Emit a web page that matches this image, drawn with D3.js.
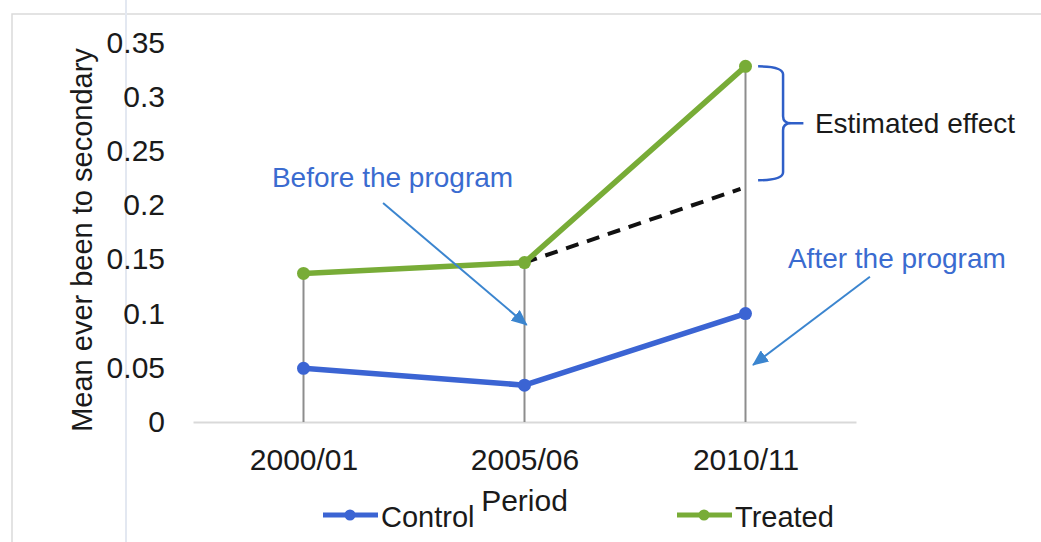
<!DOCTYPE html>
<html>
<head>
<meta charset="utf-8">
<script src="https://cdn.jsdelivr.net/npm/d3@7"></script>
<style>
    html, body { margin: 0; padding: 0; background: #fff; }
    svg { display: block; font-family: "Liberation Sans", Arial, sans-serif; }
</style>
</head>
<body>
<svg id="svgDid" width="1041" height="542"></svg>
<script>
// periods and group means
var periods = ["2000/01", "2005/06", "2010/11"];
var control = [0.0495, 0.034, 0.100];
var treated = [0.137, 0.147, 0.328];
var yTicks = [0, 0.05, 0.1, 0.15, 0.2, 0.25, 0.3, 0.35];

// counterfactual trend for the treated group (index, value)
var trendIdx = [1, 2];
var trendVal = [0.147, 0.215];

// brace marking the estimated effect (values)
var braceVal = [0.328, 0.223];

/**
 * difference-in-differences chart
 */
function createDidChart() {
    var svg = d3.select("#svgDid");

    var blue = "#3b64d3",
        green = "#78ac37",
        arrowBlue = "#3b85cf",
        textBlue = "#3a6bd0";

    // frame and scan fold
    svg.append("rect")
        .attr("x", 12).attr("y", 14)
        .attr("width", 1040).attr("height", 540)
        .attr("fill", "none")
        .attr("stroke", "#dadada")
        .attr("stroke-width", 1.5);
    svg.append("line")
        .attr("x1", 126).attr("x2", 126)
        .attr("y1", 0).attr("y2", 542)
        .attr("stroke", "#e3e8f1")
        .attr("stroke-width", 2);

    var x = d3.scalePoint()
        .domain(periods)
        .range([193, 856])
        .padding(0.5);

    // index scale, used for lines and annotations
    var xi = d3.scaleLinear()
        .domain([0, periods.length - 1])
        .range([x(periods[0]), x(periods[periods.length - 1])]);

    var y = d3.scaleLinear()
        .domain([0, 0.35])
        .range([422, 42.5]);

    // y axis (labels only)
    var gy = svg.append("g")
        .attr("transform", "translate(193,0)")
        .call(d3.axisLeft(y).tickValues(yTicks).tickSize(0).tickPadding(28)
            .tickFormat(function (d) { return d3.format("")(+d.toFixed(2)); }));
    gy.select(".domain").remove();
    gy.selectAll("text")
        .attr("font-family", "Liberation Sans, Arial, sans-serif")
        .attr("font-size", 30)
        .attr("fill", "#1a1a1a");

    // x axis
    var gx = svg.append("g")
        .attr("transform", "translate(0," + y(0) + ")")
        .call(d3.axisBottom(x).tickSize(0).tickPadding(27));
    gx.select(".domain")
        .attr("stroke", "#d9d9d9")
        .attr("stroke-width", 2);
    gx.selectAll("text")
        .attr("font-family", "Liberation Sans, Arial, sans-serif")
        .attr("font-size", 30)
        .attr("fill", "#1a1a1a");

    // axis titles
    svg.append("text")
        .attr("transform", "translate(92,240) rotate(-90)")
        .attr("text-anchor", "middle")
        .attr("font-size", 29)
        .attr("fill", "#1a1a1a")
        .text("Mean ever been to secondary");

    svg.append("text")
        .attr("x", x(periods[1]))
        .attr("y", 511)
        .attr("text-anchor", "middle")
        .attr("font-size", 30)
        .attr("fill", "#1a1a1a")
        .text("Period");

    // drop lines
    svg.append("g").selectAll("line")
        .data(periods)
        .enter()
        .append("line")
        .attr("x1", function (d) { return x(d); })
        .attr("x2", function (d) { return x(d); })
        .attr("y1", function (d, i) { return y(Math.max(treated[i], control[i])); })
        .attr("y2", y(0))
        .attr("stroke", "#8d8d8d")
        .attr("stroke-width", 2);

    var line = d3.line()
        .x(function (d, i) { return xi(i); })
        .y(function (d) { return y(d); });

    // counterfactual trend
    svg.append("path")
        .datum(trendVal)
        .attr("d", d3.line()
            .x(function (d, i) { return xi(trendIdx[i]) - i * 5; })
            .y(function (d) { return y(d); }))
        .attr("fill", "none")
        .attr("stroke", "#111")
        .attr("stroke-width", 4)
        .attr("stroke-dasharray", "13,9");

    // series
    var series = [
        {name: "Control", values: control, color: blue},
        {name: "Treated", values: treated, color: green}
    ];

    series.forEach(function (s) {
        svg.append("path")
            .datum(s.values)
            .attr("d", line)
            .attr("fill", "none")
            .attr("stroke", s.color)
            .attr("stroke-width", 5.5)
            .attr("stroke-linejoin", "round");

        svg.append("g").selectAll("circle")
            .data(s.values)
            .enter()
            .append("circle")
            .attr("cx", function (d, i) { return xi(i); })
            .attr("cy", function (d) { return y(d); })
            .attr("r", 6.5)
            .attr("fill", s.color);
    });

    // arrow head
    svg.append("defs").append("marker")
        .attr("id", "arrowHead")
        .attr("markerUnits", "userSpaceOnUse")
        .attr("viewBox", "0 0 16 14")
        .attr("refX", 15)
        .attr("refY", 7)
        .attr("markerWidth", 16)
        .attr("markerHeight", 14)
        .attr("orient", "auto")
        .append("path")
        .attr("d", "M0,0 L16,7 L0,14 Z")
        .attr("fill", arrowBlue);

    // annotations: [startIdx, startVal, endIdx, endVal]
    var arrows = [
        [0.36, 0.202, 1.01, 0.0895],
        [2.563, 0.134, 2.034, 0.0526]
    ];
    svg.append("g").selectAll("line")
        .data(arrows)
        .enter()
        .append("line")
        .attr("x1", function (d) { return xi(d[0]); })
        .attr("y1", function (d) { return y(d[1]); })
        .attr("x2", function (d) { return xi(d[2]); })
        .attr("y2", function (d) { return y(d[3]); })
        .attr("stroke", arrowBlue)
        .attr("stroke-width", 2)
        .attr("marker-end", "url(#arrowHead)");

    svg.append("text")
        .attr("x", xi(-0.143))
        .attr("y", y(0.217))
        .attr("font-size", 28)
        .attr("fill", textBlue)
        .text("Before the program");

    svg.append("text")
        .attr("x", xi(2.192))
        .attr("y", y(0.142))
        .attr("font-size", 28)
        .attr("fill", textBlue)
        .text("After the program");

    // brace
    var xa = xi(2.057), xb = xi(2.17), xc = xi(2.262);
    var y1 = y(braceVal[0]), y2 = y(braceVal[1]), ym = (y1 + y2) / 2;
    var b = d3.path();
    b.moveTo(xa, y1);
    b.quadraticCurveTo(xb, y1, xb, y1 + 8);
    b.lineTo(xb, ym - 7);
    b.quadraticCurveTo(xb, ym, xb + 8, ym);
    b.lineTo(xc, ym);
    b.moveTo(xb + 8, ym);
    b.quadraticCurveTo(xb, ym, xb, ym + 7);
    b.lineTo(xb, y2 - 8);
    b.quadraticCurveTo(xb, y2, xa, y2);
    svg.append("path")
        .attr("d", b.toString())
        .attr("fill", "none")
        .attr("stroke", "#2f5fc8")
        .attr("stroke-width", 2.5);

    svg.append("text")
        .attr("x", xi(2.314))
        .attr("y", y(0.2666))
        .attr("font-size", 28)
        .attr("fill", "#1a1a1a")
        .text("Estimated effect");

    // legend
    var legend = svg.append("g").selectAll("g")
        .data(series)
        .enter()
        .append("g")
        .attr("transform", function (d, i) {
            return "translate(" + (323 + i * 354) + ",515)";
        });
    legend.append("line")
        .attr("x1", 0).attr("x2", 55)
        .attr("y1", 0).attr("y2", 0)
        .attr("stroke", function (d) { return d.color; })
        .attr("stroke-width", 5);
    legend.append("circle")
        .attr("cx", 27).attr("cy", 0)
        .attr("r", 5.5)
        .attr("fill", function (d) { return d.color; });
    legend.append("text")
        .attr("x", 58)
        .attr("y", 12)
        .attr("font-size", 29)
        .attr("fill", "#1a1a1a")
        .text(function (d) { return d.name; });
}

createDidChart();
</script>
</body>
</html>
